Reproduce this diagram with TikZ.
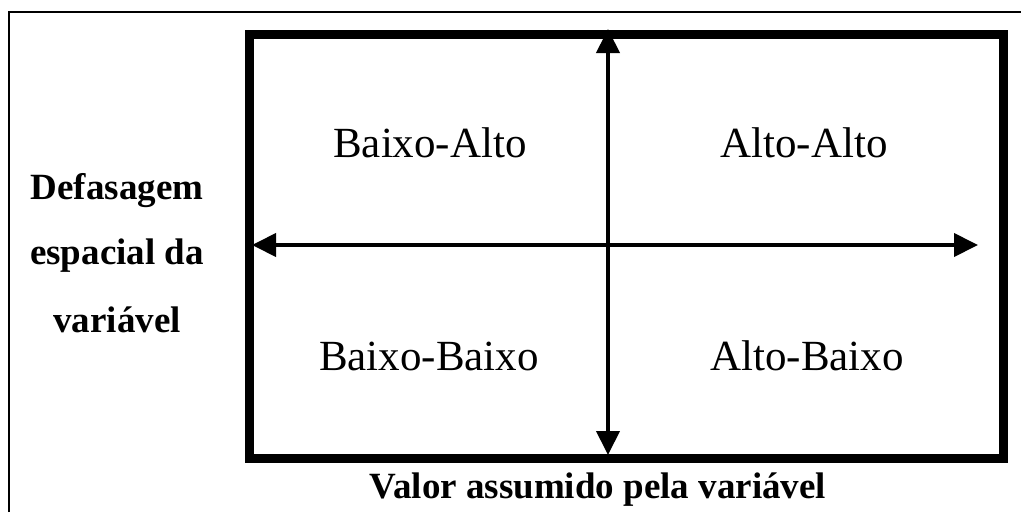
\documentclass[tikz,border=0pt]{standalone}
\usepackage{fontspec}
\setmainfont{Liberation Serif}
\usetikzlibrary{arrows.meta}
\begin{document}
\begin{tikzpicture}[x=1pt,y=-1pt,
  quad/.style={font=\fontsize{43}{50}\selectfont, inner sep=0pt},
  axlabel/.style={font=\fontsize{37}{42}\selectfont\bfseries, inner sep=0pt},
  axis/.style={line width=4pt, {Triangle[length=24pt,width=23pt]}-{Triangle[length=24pt,width=23pt]}},
  frame/.style={line width=9pt}]
\useasboundingbox (0,0) rectangle (1021,512);
\fill[white] (0,0) rectangle (1021,512);
% outer frame (cropped)
\draw[line width=1.6pt] (9,512) -- (9,12) -- (1021,12);
% main box
\node[frame, draw, minimum width=754pt, minimum height=424pt, inner sep=0pt] (box) at (626,246) {};
% axes
\coordinate (vtop) at (608,29);
\coordinate (vbot) at (608,455);
\coordinate (hleft) at (252,245);
\coordinate (hright) at (978,245);
\draw[axis] (vbot) -- (vtop);
\draw[axis] (hleft) -- (hright);
% quadrant labels
\node[quad] (ba) at (430,143) {Baixo-Alto};
\node[quad] (aa) at (804,143) {Alto-Alto};
\node[quad] (bb) at (429,356) {Baixo-Baixo};
\node[quad] (ab) at (807,356) {Alto-Baixo};
% axis labels
\node[axlabel] (y1) at (117,191) {Defasagem};
\node[axlabel] (y2) at (117,256) {espacial da};
\node[axlabel] (y3) at (117,320) {variável};
\node[axlabel] (xl) at (598,490) {Valor assumido pela variável};
\end{tikzpicture}
\end{document}
